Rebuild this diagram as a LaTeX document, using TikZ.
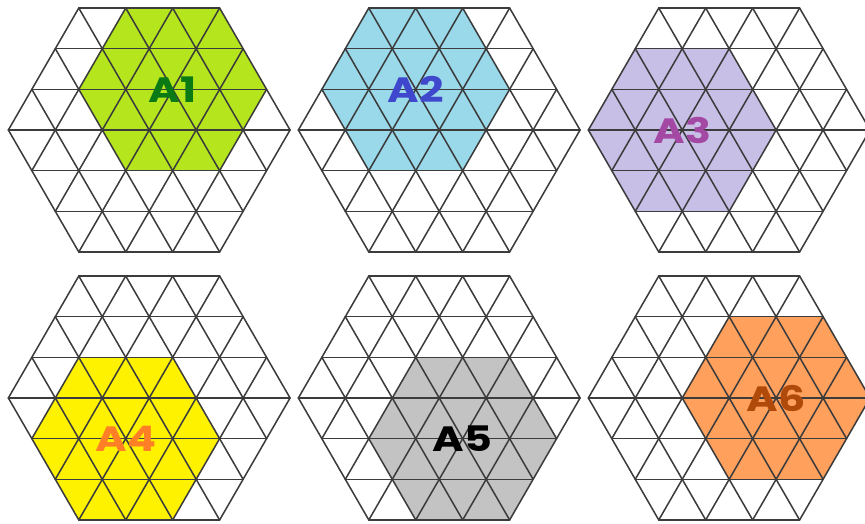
\documentclass[tikz,border=0pt]{standalone}
\usepackage{fontspec}
\newfontfamily\tagfont{Poppins}
\usepackage{tikz}
\usetikzlibrary{calc}

\definecolor{gridgray}{HTML}{3C3C3C}
\definecolor{limefill}{HTML}{B5E61D}
\definecolor{limetext}{HTML}{0B7A14}
\definecolor{skyfill}{HTML}{99D9EA}
\definecolor{skytext}{HTML}{3F48CC}
\definecolor{lilacfill}{HTML}{C8BFE7}
\definecolor{lilactext}{HTML}{A349A4}
\definecolor{sunfill}{HTML}{FFF200}
\definecolor{suntext}{HTML}{FF7F27}
\definecolor{ashfill}{HTML}{C3C3C3}
\definecolor{ashtext}{HTML}{000000}
\definecolor{peachfill}{HTML}{FFA05C}
\definecolor{peachtext}{HTML}{B04A0A}

\begin{document}
\begin{tikzpicture}[x=1.4085cm, y=1.4085cm,
  gridline/.style={draw=gridgray, line width=1.3pt, line cap=round},
  tag/.style={font=\tagfont\bfseries\fontsize{30}{30}\selectfont, inner sep=0pt, xscale=1.22}]
  \useasboundingbox (0,0) rectangle (18.424,-11.14);
  \def\h{0.8660}
  % six triangle grids, each with a shaded hexagon of side 2
  \foreach \cx/\cy/\dx/\dy/\fc/\tc/\lab [count=\i] in {
      3.178/-2.769/0.5/1/limefill/limetext/A1,
      9.355/-2.769/-0.5/1/skyfill/skytext/A2,
      15.531/-2.769/-1/0/lilacfill/lilactext/A3,
      3.178/-8.477/-0.5/-1/sunfill/suntext/A4,
      9.355/-8.477/0.5/-1/ashfill/ashtext/A5,
      15.531/-8.477/1/0/peachfill/peachtext/A6}
  {
    \begin{scope}[shift={(\cx,\cy)}]
      % shaded part
      \fill[\fc, shift={(\dx,\dy*\h)}] (0:2) -- (60:2) -- (120:2) -- (180:2)
        -- (240:2) -- (300:2) -- cycle;
      % grid lines in three directions
      \foreach \r in {0,60,120}
        \foreach \k in {-3,...,3}
          \draw[gridline, rotate=\r] ({-3+abs(\k)/2},{\k*\h}) -- ({3-abs(\k)/2},{\k*\h});
      \node[tag, text=\tc] (tag\i) at (\dx,\dy*\h) {\lab};
    \end{scope}
  }
\end{tikzpicture}
\end{document}
